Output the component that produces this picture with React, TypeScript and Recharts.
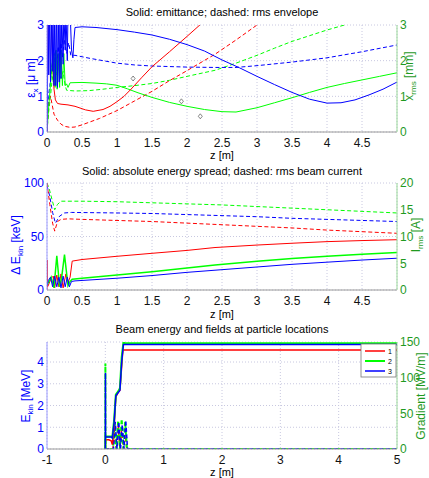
import { ComposedChart, LineChart, Line, Scatter, XAxis, YAxis, CartesianGrid } from 'recharts';

type Pt = [number, number];

const FONT = '"Liberation Sans", Arial, Helvetica, sans-serif';
const BLUE = '#0000ff';
const RED = '#ff0000';
const GREEN = '#00ff00';
const AXIS_BLUE = '#9a9aff';
const AXIS_GREEN = '#9ad89a';
const TEXT_GREEN = '#1f9a1f';
const GRID = '#c8c8e0';
const DASH = '4 2.5';

// top panel: emittance (solid, um) and rms envelope (dashed, mm)
const Z_TICKS = [0, 0.5, 1, 1.5, 2, 2.5, 3, 3.5, 4, 4.5];
const EMIT_TICKS = [0, 1, 2, 3];

const blueEmit: Pt[] = [
  [0, 0], [0.005, 0.8], [0.015, 3.4], [0.025, 1.6], [0.035, 3.4], [0.05, 1.4], [0.06, 3.4], [0.075, 1.7],
  [0.085, 3.4], [0.1, 1.3], [0.11, 3.4], [0.125, 1.3], [0.135, 3.4], [0.15, 1.25], [0.16, 3.4], [0.175, 1.4],
  [0.185, 3.4], [0.2, 1.5], [0.21, 3.4], [0.23, 1.9], [0.24, 3.4], [0.26, 2.3], [0.27, 3.4], [0.29, 2.0],
  [0.3, 3.4], [0.33, 3.4], [0.35, 2.3], [0.37, 2.08], [0.385, 2.6], [0.4, 2.93], [0.5, 2.95], [0.7, 2.93],
  [1.0, 2.87], [1.25, 2.8], [1.5, 2.72], [1.75, 2.6], [2.0, 2.45], [2.25, 2.27], [2.5, 2.02], [2.75, 1.8],
  [3.0, 1.56], [3.25, 1.33], [3.5, 1.11], [3.75, 0.92], [4.0, 0.81], [4.2, 0.82], [4.4, 0.9], [4.6, 1.04],
  [4.8, 1.2], [5.0, 1.4],
];
const blueEnv: Pt[] = [
  [0, 0], [0.01, 0.5], [0.02, 1.0], [0.04, 1.3], [0.06, 1.6], [0.08, 2.0], [0.1, 1.8], [0.12, 2.3],
  [0.14, 1.9], [0.16, 2.4], [0.18, 2.0], [0.2, 2.5], [0.22, 2.1], [0.25, 2.6], [0.28, 2.2], [0.31, 2.5],
  [0.34, 2.15], [0.4, 2.15], [0.6, 2.07], [0.8, 2.0], [1.0, 1.93], [1.25, 1.88], [1.5, 1.85], [2.0, 1.82],
  [2.4, 1.81], [2.7, 1.81], [3.0, 1.86], [3.5, 1.96], [4.0, 2.08], [4.5, 2.25], [5.0, 2.44],
];
const redEmit: Pt[] = [
  [0, 0], [0.008, 1.5], [0.015, 3.4], [0.06, 3.4], [0.08, 2.0], [0.1, 1.2], [0.12, 0.9], [0.15, 0.8],
  [0.2, 0.78], [0.3, 0.76], [0.4, 0.72], [0.55, 0.62], [0.66, 0.58], [0.8, 0.63], [0.9, 0.72], [1.0, 0.85],
  [1.1, 1.0], [1.2, 1.2], [1.35, 1.52], [1.5, 1.83], [1.75, 2.25], [2.0, 2.68], [2.2, 3.03], [2.4, 3.38],
];
const redEnv: Pt[] = [
  [0, 0], [0.01, 0.4], [0.03, 0.9], [0.05, 1.0], [0.07, 0.8], [0.1, 0.5], [0.15, 0.33], [0.2, 0.22],
  [0.25, 0.16], [0.33, 0.13], [0.4, 0.14], [0.5, 0.2], [0.75, 0.38], [1.0, 0.6], [1.25, 0.87], [1.5, 1.14],
  [1.75, 1.44], [2.0, 1.72], [2.4, 2.18], [2.7, 2.58], [3.0, 3.0], [3.15, 3.22],
];
const greenEmit: Pt[] = [
  [0, 0], [0.02, 0.6], [0.04, 1.1], [0.06, 1.6], [0.08, 2.1], [0.09, 1.4], [0.1, 2.2], [0.115, 1.25],
  [0.13, 2.3], [0.145, 1.2], [0.16, 2.2], [0.18, 1.25], [0.2, 2.3], [0.22, 1.3], [0.24, 2.2], [0.26, 1.3],
  [0.28, 1.35], [0.3, 1.25], [0.33, 1.38], [0.5, 1.39], [0.7, 1.37], [0.85, 1.35], [1.0, 1.31], [1.15, 1.21],
  [1.3, 1.1], [1.5, 0.97], [1.75, 0.83], [2.0, 0.72], [2.25, 0.63], [2.5, 0.57], [2.7, 0.56], [3.0, 0.68],
  [3.25, 0.82], [3.5, 0.96], [3.75, 1.11], [4.0, 1.25], [4.25, 1.36], [4.5, 1.46], [4.75, 1.56], [5.0, 1.66],
];
const greenEnv: Pt[] = [
  [0, 0], [0.02, 0.5], [0.05, 1.0], [0.07, 1.4], [0.1, 1.8], [0.12, 2.2], [0.14, 1.6], [0.17, 1.9],
  [0.2, 1.5], [0.23, 1.7], [0.26, 1.3], [0.28, 1.17], [0.4, 1.15], [0.6, 1.16], [0.8, 1.2], [1.0, 1.25],
  [1.25, 1.3], [1.5, 1.36], [1.75, 1.45], [2.0, 1.56], [2.4, 1.73], [2.7, 1.93], [3.0, 2.15], [3.25, 2.35],
  [3.5, 2.54], [3.75, 2.7], [4.0, 2.86], [4.25, 3.0], [4.42, 3.2],
];
const emitMarkers: Pt[] = [[1.23, 1.5], [1.92, 0.86], [2.19, 0.44]];

// middle panel: energy spread (solid, keV) and rms current (dashed, A)
const SPREAD_TICKS = [0, 50, 100];
const CURRENT_TICKS = [0, 5, 10, 15, 20];

const redSpread: Pt[] = [
  [0, 0], [0.003, 28], [0.008, 3], [0.03, 6], [0.06, 11], [0.09, 13], [0.11, 2], [0.14, 14], [0.17, 3],
  [0.2, 15], [0.23, 2], [0.27, 15], [0.3, 7], [0.33, 12], [0.36, 27], [0.5, 28.5], [1.0, 31.5], [1.5, 34.3],
  [2.0, 37], [2.4, 39.7], [3.0, 42], [3.5, 43.7], [4.0, 45.2], [4.5, 46.2], [5.0, 47],
];
const greenSpread: Pt[] = [
  [0, 5], [0.03, 8], [0.06, 12], [0.1, 2], [0.14, 32], [0.18, 3], [0.21, 12], [0.25, 33], [0.3, 4],
  [0.33, 8], [0.36, 10], [0.5, 11], [1.0, 14], [1.5, 17], [2.0, 20.5], [2.4, 23.4], [3.0, 26.8],
  [3.5, 29.5], [4.0, 31.5], [4.5, 33.4], [5.0, 35],
];
const blueSpread: Pt[] = [
  [0, 4], [0.02, 9], [0.05, 12], [0.08, 3], [0.11, 13], [0.14, 3], [0.17, 12], [0.2, 2], [0.23, 13],
  [0.26, 3], [0.29, 12], [0.32, 3], [0.35, 8], [0.4, 8.5], [1.0, 11], [1.5, 13.5], [2.0, 16.5], [2.4, 18.5],
  [3.0, 21.5], [3.5, 24], [4.0, 26], [4.5, 28], [5.0, 29.7],
];
const greenCurrent: Pt[] = [
  [0, 20], [0.03, 19], [0.07, 17], [0.11, 15], [0.15, 16], [0.2, 16.6], [0.5, 16.6], [1.0, 16.5],
  [1.5, 16.3], [2.0, 16.1], [2.5, 15.9], [3.0, 15.6], [3.5, 15.3], [4.0, 15.0], [4.5, 14.7], [5.0, 14.4],
];
const blueCurrent: Pt[] = [
  [0, 19.5], [0.04, 17.5], [0.08, 14.5], [0.12, 12.5], [0.18, 13.8], [0.25, 14.4], [0.35, 14.5],
  [1.0, 14.4], [1.5, 14.3], [2.0, 14.1], [2.5, 13.9], [3.0, 13.7], [3.5, 13.4], [4.0, 13.2], [4.5, 13.0],
  [5.0, 12.8],
];
const redCurrent: Pt[] = [
  [0, 20], [0.04, 16], [0.08, 12.5], [0.11, 11.0], [0.15, 12.8], [0.2, 13.2], [0.3, 13.3], [0.5, 13.2],
  [1.0, 13.0], [1.5, 12.8], [2.0, 12.5], [2.5, 12.2], [3.0, 11.9], [3.5, 11.6], [4.0, 11.2], [4.5, 10.9],
  [5.0, 10.6],
];

// bottom panel: beam energy (solid, MeV) and gradient (dashed, MV/m)
const Z3_TICKS = [-1, 0, 1, 2, 3, 4, 5];
const ENERGY_TICKS = [0, 1, 2, 3, 4];
const GRADIENT_TICKS = [0, 50, 100, 150];

const redEnergy: Pt[] = [
  [0, 0], [0.003, 0.42], [0.06, 0.42], [0.1, 0.38], [0.12, 0.2], [0.15, 1.0], [0.18, 2.4], [0.22, 2.6],
  [0.25, 2.7], [0.28, 3.8], [0.3, 4.55], [5, 4.55],
];
const greenEnergy: Pt[] = [
  [0, 0], [0.003, 0.58], [0.1, 0.58], [0.12, 0.55], [0.15, 1.3], [0.18, 2.5], [0.22, 2.65], [0.25, 2.8],
  [0.28, 4.2], [0.31, 4.9], [0.34, 4.86], [5, 4.86],
];
const blueEnergy: Pt[] = [
  [0, 0], [0.002, 3.5], [0.004, 0.55], [0.1, 0.55], [0.12, 0.5], [0.15, 1.2], [0.18, 2.45], [0.22, 2.6],
  [0.25, 2.7], [0.28, 4.0], [0.31, 4.8], [5, 4.8],
];
const redGradient: Pt[] = [
  [0, 0], [0.13, 0], [0.16, 24], [0.19, 0], [0.22, 33], [0.25, 0], [0.28, 30], [0.31, 0], [0.34, 20],
  [0.37, 0], [5, 0],
];
const greenGradient: Pt[] = [
  [0, 0], [0.001, 120], [0.003, 0], [0.13, 0], [0.16, 36], [0.19, 0], [0.22, 40], [0.25, 0], [0.28, 42],
  [0.31, 0], [0.34, 38], [0.37, 0], [5, 0],
];
const blueGradient: Pt[] = [
  [0, 0], [0.14, 0], [0.17, 38], [0.2, 0], [0.23, 38], [0.26, 0], [0.29, 34], [0.32, 0], [0.35, 40],
  [0.38, 0], [5, 0],
];
const legendNames = ['1', '2', '3'];
const legendColors = [RED, GREEN, BLUE];

const toRows = (pts: Pt[]) => pts.map(([z, v]) => ({ z, v }));

const tickBlack = { fill: '#111', fontSize: 12, fontFamily: FONT };
const tickBlue = { fill: BLUE, fontSize: 12, fontFamily: FONT };
const tickGreen = { fill: TEXT_GREEN, fontSize: 12, fontFamily: FONT };

const series = (key: string, pts: Pt[], color: string, axis: string, dashed: boolean, width = 1) => (
  <Line
    key={key}
    data={toRows(pts)}
    dataKey="v"
    yAxisId={axis}
    type="linear"
    stroke={color}
    strokeWidth={width}
    strokeDasharray={dashed ? DASH : undefined}
    dot={false}
    activeDot={false}
    isAnimationActive={false}
  />
);

const Diamond = (props: any) => {
  const { cx, cy } = props;
  return (
    <path
      d={`M${cx},${cy - 2.5}L${cx + 2},${cy}L${cx},${cy + 2.5}L${cx - 2},${cy}Z`}
      fill="none"
      stroke="#555"
      strokeWidth={0.7}
    />
  );
};

const xAxisProps = {
  type: 'number' as const,
  dataKey: 'z',
  allowDataOverflow: true,
  interval: 0 as const,
  tickLine: false,
  tickSize: 4,
  tickMargin: 2,
  tick: tickBlack,
  axisLine: { stroke: '#9a9a9a' },
};

const leftAxis = (domain: number[], ticks: number[]) => ({
  yAxisId: 'left',
  domain,
  ticks,
  interval: 0 as const,
  allowDataOverflow: true,
  width: 47,
  tickLine: false,
  tickSize: 0,
  tickMargin: 3,
  tick: tickBlue,
  axisLine: { stroke: AXIS_BLUE },
});

const rightAxis = (domain: number[], ticks: number[]) => ({
  yAxisId: 'right',
  orientation: 'right' as const,
  domain,
  ticks,
  interval: 0 as const,
  allowDataOverflow: true,
  width: 32,
  tickLine: false,
  tickSize: 0,
  tickMargin: 3,
  tick: tickGreen,
  axisLine: { stroke: AXIS_GREEN },
});

export default function App() {
  return (
    <div style={{ position: 'absolute', left: 0, top: 0, width: 429, height: 478, background: '#fff' }}>
      <div style={{ position: 'absolute', left: 0, top: 0 }}>
        <ComposedChart width={429} height={160} margin={{ top: 25, right: 0, bottom: 0, left: 0 }}>
          <CartesianGrid yAxisId="left" stroke={GRID} strokeDasharray="1 2" />
          <XAxis {...xAxisProps} domain={[0, 5]} ticks={Z_TICKS} height={28} />
          <YAxis {...leftAxis([0, 3], EMIT_TICKS)} />
          <YAxis {...rightAxis([0, 3], EMIT_TICKS)} />
          {series('ge', greenEnv, GREEN, 'right', true)}
          {series('re', redEnv, RED, 'right', true)}
          {series('be', blueEnv, BLUE, 'right', true)}
          {series('gm', greenEmit, GREEN, 'left', false)}
          {series('rm', redEmit, RED, 'left', false)}
          {series('bm', blueEmit, BLUE, 'left', false)}
          <Scatter yAxisId="left" data={toRows(emitMarkers)} dataKey="v" shape={Diamond} isAnimationActive={false} />
        </ComposedChart>
      </div>
      <div style={{ position: 'absolute', left: 0, top: 160 }}>
        <LineChart width={429} height={150} margin={{ top: 23, right: 0, bottom: 0, left: 0 }}>
          <CartesianGrid yAxisId="left" stroke={GRID} strokeDasharray="1 2" />
          <XAxis {...xAxisProps} domain={[0, 5]} ticks={Z_TICKS} height={20} />
          <YAxis {...leftAxis([0, 100], SPREAD_TICKS)} />
          <YAxis {...rightAxis([0, 20], CURRENT_TICKS)} />
          {series('gc', greenCurrent, GREEN, 'right', true)}
          {series('bc', blueCurrent, BLUE, 'right', true)}
          {series('rc', redCurrent, RED, 'right', true)}
          {series('rs', redSpread, RED, 'left', false)}
          {series('gs', greenSpread, GREEN, 'left', false, 1.5)}
          {series('bs', blueSpread, BLUE, 'left', false)}
        </LineChart>
      </div>
      <div style={{ position: 'absolute', left: 0, top: 310 }}>
        <LineChart width={429} height={168} margin={{ top: 32, right: 0, bottom: 0, left: 0 }}>
          <CartesianGrid yAxisId="left" stroke={GRID} strokeDasharray="1 2" />
          <XAxis {...xAxisProps} domain={[-1, 5]} ticks={Z3_TICKS} height={29} />
          <YAxis {...leftAxis([0, 4.92], ENERGY_TICKS)} />
          <YAxis {...rightAxis([0, 150], GRADIENT_TICKS)} />
          {series('rg', redGradient, RED, 'right', true, 1.5)}
          {series('gg', greenGradient, GREEN, 'right', true, 2)}
          {series('bg', blueGradient, BLUE, 'right', true, 1.5)}
          {series('rE', redEnergy, RED, 'left', false, 1.5)}
          {series('gE', greenEnergy, GREEN, 'left', false, 2)}
          {series('bE', blueEnergy, BLUE, 'left', false, 1.5)}
        </LineChart>
      </div>
      <svg
        width={429}
        height={478}
        style={{ position: 'absolute', left: 0, top: 0, pointerEvents: 'none' }}
        fontFamily={FONT}
      >
        <g fontSize={11} textAnchor="middle" fill="#000">
          <text x={222} y={16}>Solid: emittance; dashed: rms envelope</text>
          <text x={222} y={158.5}>z [m]</text>
          <text x={222} y={175}>Solid: absolute energy spread; dashed: rms beam current</text>
          <text x={222} y={317.5}>z [m]</text>
          <text x={222} y={333}>Beam energy and fields at particle locations</text>
          <text x={222} y={476}>z [m]</text>
        </g>
        <g fontSize={12} textAnchor="middle">
          <text x={35} y={78} fill={BLUE} transform="rotate(-90 35 78)">
            ε<tspan dy={3} fontSize={8}>x</tspan><tspan dy={-3}> [μ m]</tspan>
          </text>
          <text x={413} y={76} fill={TEXT_GREEN} transform="rotate(-90 413 76)">
            x<tspan dy={3} fontSize={8}>rms</tspan><tspan dy={-3}> [mm]</tspan>
          </text>
          <text x={20} y={245} fill={BLUE} transform="rotate(-90 20 245)">
            Δ E<tspan dy={3} fontSize={8}>kin</tspan><tspan dy={-3}> [keV]</tspan>
          </text>
          <text x={420} y={235} fill={TEXT_GREEN} transform="rotate(-90 420 235)">
            I<tspan dy={3} fontSize={8}>rms</tspan><tspan dy={-3}> [A]</tspan>
          </text>
          <text x={30} y={396} fill={BLUE} transform="rotate(-90 30 396)">
            E<tspan dy={3} fontSize={8}>kin</tspan><tspan dy={-3}> [MeV]</tspan>
          </text>
          <text x={425} y={396} fill={TEXT_GREEN} transform="rotate(-90 425 396)">
            Gradient [MV/m]
          </text>
        </g>
        <g>
          <rect x={361} y={344} width={35} height={33} fill="#fff" stroke="#777" strokeWidth={0.8} />
          {legendNames.map((name, i) => (
            <g key={name}>
              <line x1={365} x2={385} y1={351 + i * 10} y2={351 + i * 10} stroke={legendColors[i]} strokeWidth={i === 1 ? 2 : 1.5} />
              <text x={388} y={353.5 + i * 10} fontSize={7} fill="#000">{name}</text>
            </g>
          ))}
        </g>
      </svg>
    </div>
  );
}
